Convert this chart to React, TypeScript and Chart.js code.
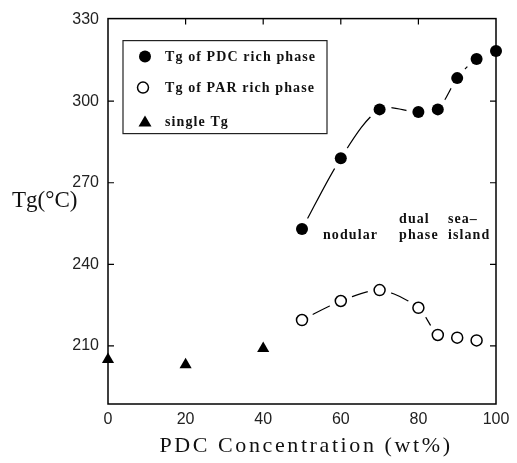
import React, { useEffect, useRef } from "react";
import { Chart, registerables } from "chart.js";

Chart.register(...registerables);

const xTicks = [0, 20, 40, 60, 80, 100];
const yTicks = [210, 240, 270, 300, 330];
const innerXTicks = [20, 40, 60, 80];
const innerYTicks = [210, 240, 270, 300];

const pdcX = [50, 60, 70, 80, 85, 90, 95, 100];
const pdcTg = [253, 279, 297, 296, 297, 308.5, 315.5, 318.5];
const parX = [50, 60, 70, 80, 85, 90, 95];
const parTg = [219.5, 226.5, 230.5, 224, 214, 213, 212];
const singleX = [0, 20, 40];
const singleTg = [205, 203, 209];

const legendLabels = ["Tg of PDC rich phase", "Tg of PAR rich phase", "single Tg"];
const noteTexts = ["nodular", "dual", "phase", "sea\u2013", "island"];
const noteX = [55.4, 75, 75, 87.6, 87.6];
const noteY = [250.6, 256.4, 250.6, 256.4, 250.6];

const xTitle = "PDC Concentration (wt%)";
const yTitle = "Tg(\u00b0C)";

const pts = (xs: number[], ys: number[]) => xs.map((x, i) => ({ x, y: ys[i] }));

const NOTE_FONT = "bold 14px 'Liberation Serif', serif";

const decorPlugin = {
  id: "decor",
  afterDatasetDraw(chart: any, args: any) {
    if (args.index !== 3) return;
    const { ctx, chartArea: a, scales } = chart;
    ctx.save();
    ctx.strokeStyle = "#000";
    ctx.lineWidth = 1.5;
    ctx.strokeRect(a.left, a.top, a.right - a.left, a.bottom - a.top);
    ctx.lineWidth = 1.2;
    ctx.beginPath();
    for (const v of innerXTicks) {
      const px = scales.x.getPixelForValue(v);
      ctx.moveTo(px, a.top);
      ctx.lineTo(px, a.top + 6);
    }
    for (const v of innerYTicks) {
      const py = scales.y.getPixelForValue(v);
      ctx.moveTo(a.left, py);
      ctx.lineTo(a.left + 6, py);
      ctx.moveTo(a.right, py);
      ctx.lineTo(a.right - 6, py);
    }
    ctx.stroke();
    ctx.restore();
  },
  afterDraw(chart: any) {
    const { ctx, chartArea: a, scales } = chart;
    ctx.save();
    const bx = a.left + 15;
    const by = a.top + 22;
    ctx.strokeStyle = "#222";
    ctx.lineWidth = 1.2;
    ctx.strokeRect(bx, by, 204, 93);
    const rowY = [by + 16, by + 47, by + 81];
    const mx = bx + 22;
    ctx.fillStyle = "#000";
    ctx.beginPath();
    ctx.arc(mx, rowY[0], 6, 0, Math.PI * 2);
    ctx.fill();
    ctx.lineWidth = 1.5;
    ctx.strokeStyle = "#000";
    ctx.beginPath();
    ctx.arc(mx - 2, rowY[1], 5.5, 0, Math.PI * 2);
    ctx.stroke();
    ctx.beginPath();
    ctx.moveTo(mx, rowY[2] - 6);
    ctx.lineTo(mx + 6.5, rowY[2] + 5);
    ctx.lineTo(mx - 6.5, rowY[2] + 5);
    ctx.closePath();
    ctx.fill();
    ctx.font = NOTE_FONT;
    (ctx as any).letterSpacing = "1.1px";
    ctx.fillStyle = "#111";
    ctx.textAlign = "left";
    ctx.textBaseline = "middle";
    legendLabels.forEach((t, i) => ctx.fillText(t, bx + 42, rowY[i] + 1));
    noteTexts.forEach((t, i) => {
      ctx.fillText(t, scales.x.getPixelForValue(noteX[i]), scales.y.getPixelForValue(noteY[i]));
    });
    ctx.fillStyle = "#111";
    ctx.font = "22px 'Liberation Serif', serif";
    (ctx as any).letterSpacing = "2.6px";
    ctx.textAlign = "left";
    ctx.textBaseline = "middle";
    const w = ctx.measureText(xTitle).width;
    ctx.fillText(xTitle, (a.left + a.right) / 2 + 4 - w / 2, a.bottom + 42);
    (ctx as any).letterSpacing = "0px";
    ctx.font = "23px 'Liberation Serif', serif";
    ctx.textBaseline = "alphabetic";
    ctx.fillText(yTitle, 12, 207);
    ctx.restore();
  },
};

export default function App() {
  const ref = useRef<HTMLCanvasElement | null>(null);
  useEffect(() => {
    if (!ref.current) return;
    const tickFont = { family: "'Liberation Sans', sans-serif", size: 16 };
    const chart = new Chart(ref.current, {
      type: "scatter",
      data: {
        datasets: [
          {
            label: legendLabels[0],
            data: pts(pdcX, pdcTg),
            pointRadius: 6,
            pointBackgroundColor: "#000",
            pointBorderWidth: 0,
            showLine: false,
            clip: false,
          } as any,
          {
            label: legendLabels[1],
            data: pts(parX, parTg),
            pointRadius: 5.5,
            pointBackgroundColor: "#fff",
            pointBorderColor: "#000",
            pointBorderWidth: 1.5,
            showLine: false,
            clip: false,
          },
          {
            label: legendLabels[2],
            data: pts(singleX, singleTg),
            pointStyle: "triangle",
            pointRadius: 7,
            pointBackgroundColor: "#000",
            pointBorderColor: "#000",
            pointBorderWidth: 0,
            showLine: false,
            clip: false,
          },
          {
            label: "halo pdc",
            data: pts(pdcX, pdcTg),
            pointRadius: 12,
            pointBackgroundColor: "#fff",
            pointBorderWidth: 0,
            showLine: false,
            clip: false,
          },
          {
            label: "halo par",
            data: pts(parX, parTg),
            pointRadius: 12,
            pointBackgroundColor: "#fff",
            pointBorderWidth: 0,
            showLine: false,
            clip: false,
          },
          {
            label: "line pdc",
            data: pts(pdcX, pdcTg),
            showLine: true,
            borderColor: "#000",
            borderWidth: 1.2,
            tension: 0.3,
            pointRadius: 0,
            clip: false,
          },
          {
            label: "line par",
            data: pts(parX, parTg),
            showLine: true,
            borderColor: "#000",
            borderWidth: 1.2,
            tension: 0.3,
            pointRadius: 0,
            clip: false,
          },
        ],
      },
      options: {
        animation: false,
        responsive: true,
        maintainAspectRatio: false,
        layout: { padding: { left: 0, right: 21, top: 13, bottom: 0 } },
        plugins: { legend: { display: false }, tooltip: { enabled: false } },
        scales: {
          x: {
            type: "linear",
            min: 0,
            max: 100,
            grid: { display: false, drawTicks: false },
            border: { display: false },
            afterBuildTicks: (s: any) => {
              s.ticks = xTicks.map((v) => ({ value: v }));
            },
            afterFit: (s: any) => {
              s.height = 59;
            },
            ticks: { font: tickFont, color: "#222", padding: 6, maxRotation: 0 },
          },
          y: {
            type: "linear",
            min: 188.6,
            max: 330.4,
            grid: { display: false, drawTicks: false },
            border: { display: false },
            afterBuildTicks: (s: any) => {
              s.ticks = yTicks.map((v) => ({ value: v }));
            },
            afterFit: (s: any) => {
              s.width = 108;
            },
            ticks: { font: tickFont, color: "#222", padding: 9 },
          },
        },
      },
      plugins: [decorPlugin],
    });
    return () => chart.destroy();
  }, []);
  return (
    <div style={{ position: "fixed", left: 0, top: 0, width: 517, height: 463, background: "#fff" }}>
      <canvas ref={ref} />
    </div>
  );
}
